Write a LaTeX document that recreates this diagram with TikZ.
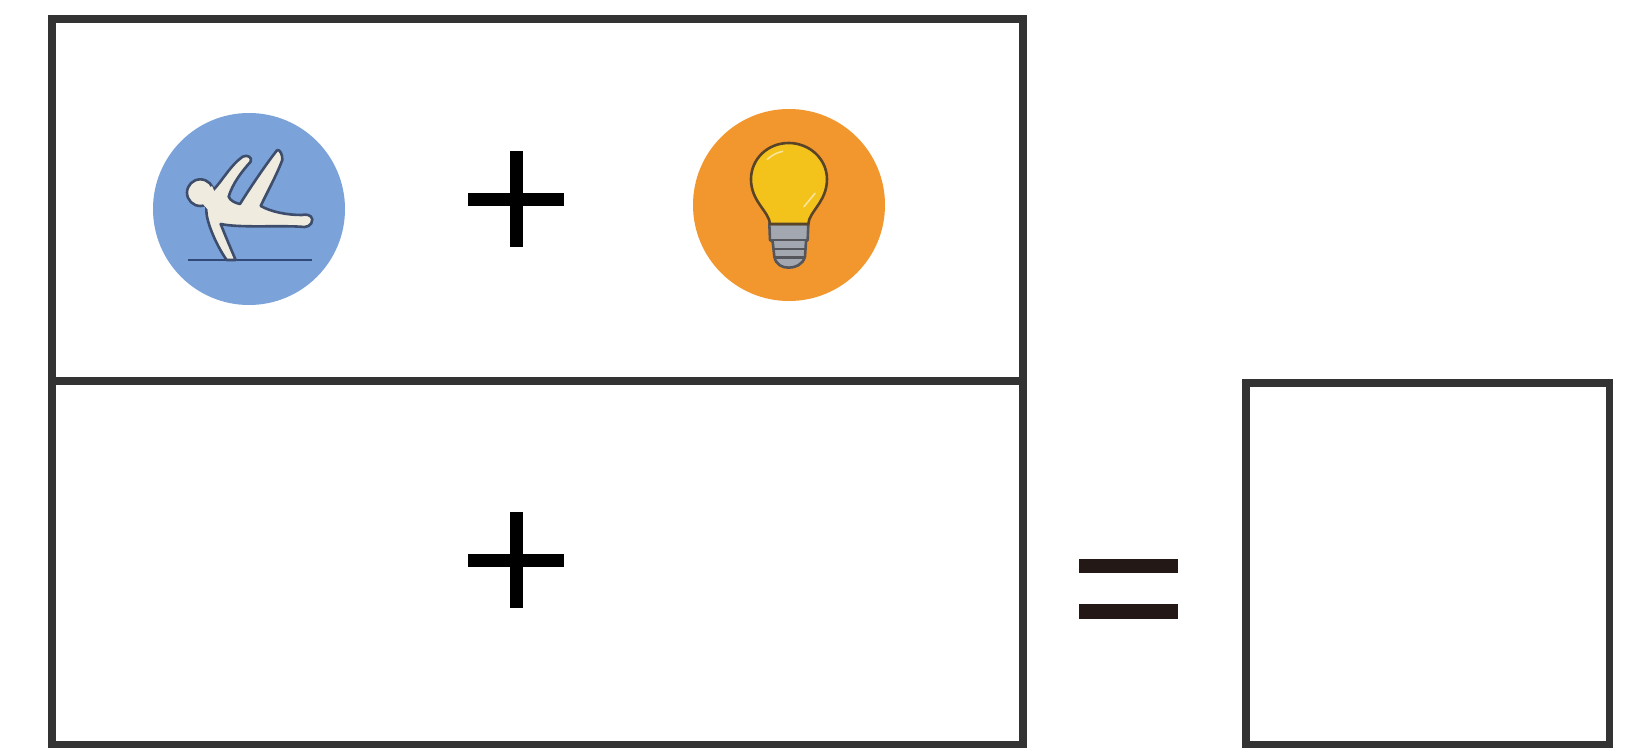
\documentclass[tikz,border=0pt]{standalone}
\definecolor{boxgray}{HTML}{333333}
\definecolor{eqdark}{HTML}{231815}
\definecolor{bluedisc}{HTML}{7BA3DA}
\definecolor{orangedisc}{HTML}{F2962E}
\definecolor{bulbyellow}{HTML}{F3C31C}
\definecolor{bulbline}{HTML}{5A4428}
\definecolor{basegray}{HTML}{A3A8B0}
\definecolor{baseline}{HTML}{55565C}
\definecolor{figfill}{HTML}{EFEBDF}
\definecolor{figline}{HTML}{3D4D6B}
\definecolor{floorline}{HTML}{2F4A78}
\tikzset{
  frame/.style={draw=boxgray,line width=7.5pt,fill=white},
  barshape/.style={fill=black,draw=none},
  eqbar/.style={fill=eqdark,draw=none},
  figshape/.style={draw=figline,fill=figfill,line width=2.6pt,line join=round},
  bulbshape/.style={draw=bulbline,line width=2.6pt,line join=round},
  baseshape/.style={draw=baseline,line width=2.6pt,line join=round}
}
\newcommand{\plussign}[2]{%
  \fill[barshape] (#1-48,#2-6.5) rectangle (#1+48,#2+6.5);
  \fill[barshape] (#1-6.5,#2-48) rectangle (#1+6.5,#2+48);
}
\begin{document}
\begin{tikzpicture}[x=1pt,y=-1pt]
\useasboundingbox (0,0) rectangle (1628,750);
\fill[white] (0,0) rectangle (1628,750);
% frames
\draw[frame] (52,19) rectangle (1023,381);
\draw[frame] (52,381) rectangle (1023,744.5);
\draw[frame] (1246,383) rectangle (1609.5,744.5);
% plus signs
\plussign{516}{199}
\plussign{516}{560}
% equals sign
\fill[eqbar] (1079,559) rectangle (1178,573);
\fill[eqbar] (1079,604) rectangle (1178,619);
% blue disc with figure
\fill[bluedisc] (249,209) circle (96);
\begin{scope}[shift={(140,100)},x=0.3333pt,y=-0.3333pt]
  \draw[floorline,line width=2.6pt] (143,480) -- (517,480);
  \draw[figshape] (181,278) circle (40);
  \draw[figshape] (287,480)
    .. controls (272,445) and (255,405) .. (242,372)
    .. controls (300,384) and (400,376) .. (480,380)
    .. controls (498,384) and (517,378) .. (517,358)
    .. controls (514,342) and (495,343) .. (485,345)
    .. controls (440,345) and (395,336) .. (362,318)
    .. controls (380,280) and (410,225) .. (427,180)
    .. controls (428,165) and (420,148) .. (412,150)
    .. controls (395,170) and (345,240) .. (300,312)
    .. controls (288,310) and (270,302) .. (266,290)
    .. controls (278,250) and (305,215) .. (332,185)
    .. controls (338,172) and (322,163) .. (308,170)
    .. controls (272,195) and (245,245) .. (218,272)
    .. controls (203,295) and (195,315) .. (201,350)
    .. controls (208,385) and (232,440) .. (260,480)
    -- cycle;
  \fill[figfill] (176,298) -- (216,258) -- (235,300) -- (212,338) -- cycle;
\end{scope}
% orange disc with bulb
\fill[orangedisc] (789,205) circle (96);
\begin{scope}[shift={(680,100)},x=0.3333pt,y=-0.3333pt]
  \draw[baseshape,fill=basegray] (268,372) -- (385,372) -- (383,420)
    -- (378,425) -- (375,470)
    .. controls (368,495) and (345,503) .. (326,503)
    .. controls (307,503) and (288,495) .. (283,470)
    -- (278,425) -- (270,420) -- cycle;
  \draw[baseshape] (272,420) -- (381,420);
  \draw[baseshape] (278,447) -- (376,447);
  \draw[baseshape] (283,472) -- (373,472);
  \draw[bulbshape,fill=bulbyellow] (270,372)
    .. controls (268,335) and (213,305) .. (213,238)
    .. controls (213,176) and (264,129) .. (326,129)
    .. controls (388,129) and (441,176) .. (441,238)
    .. controls (441,305) and (387,335) .. (385,372)
    -- cycle;
  \draw[white!55!bulbyellow,line width=1.6pt,line cap=round] (262,178) .. controls (275,166) and (290,158) .. (308,154);
  \draw[white!55!bulbyellow,line width=1.6pt,line cap=round] (372,320) -- (405,280);
\end{scope}
\end{tikzpicture}
\end{document}
